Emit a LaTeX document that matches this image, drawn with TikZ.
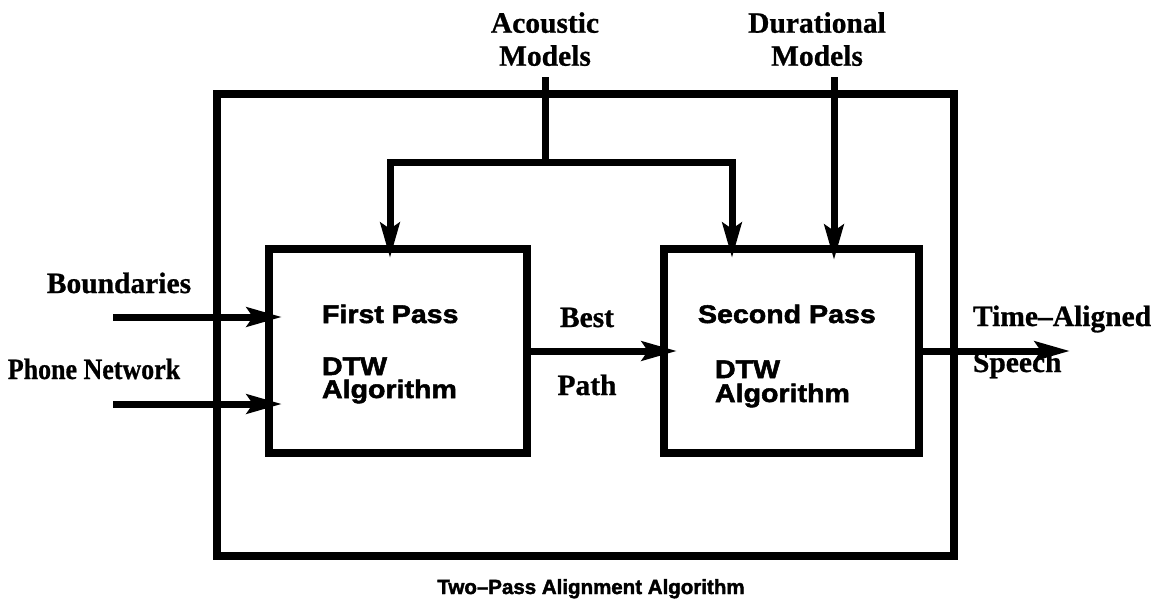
\documentclass[tikz,border=0pt]{standalone}
\usepackage{fontspec}
\setmainfont{Liberation Serif}[BoldFeatures={FakeBold=0.8}]
\newfontfamily\hsans{Liberation Sans Bold}[FakeStretch=1.12, FakeBold=2]
\newfontfamily\tsans{Liberation Sans Bold}[FakeBold=2]
\usetikzlibrary{arrows.meta}
\begin{document}
\begin{tikzpicture}[x=1pt,y=-1pt,
  box/.style={draw, line width=8pt, inner sep=0pt, outer sep=0pt},
  lab/.style={font=\bfseries\fontsize{29.5}{33}\selectfont, inner sep=0pt, outer sep=0pt},
  intext/.style={font=\hsans\fontsize{25.5}{28}\selectfont, inner sep=0pt, outer sep=0pt, anchor=base west},
  conn/.style={line width=7pt},
  arrow/.style={line width=7pt, -{Stealth[length=35pt, width=19pt, inset=6pt]}}]
\useasboundingbox (0,0) rectangle (1160,608);

% boxes
\node[box, minimum width=737pt, minimum height=462pt] (outer) at (585.5,325) {};
\node[box, minimum width=258pt, minimum height=204pt] (first) at (398,351) {};
\node[box, minimum width=255pt, minimum height=204pt] (second) at (791.5,351) {};

% box texts
\node[intext] (fp) at (322,323) {First Pass};
\node[intext] (fdtw) at (322,375) {DTW};
\node[intext] (falg) at (322,398) {Algorithm};
\node[intext] (sp) at (698,323) {Second Pass};
\node[intext] (sdtw) at (715,378) {DTW};
\node[intext] (salg) at (715,402) {Algorithm};

% outside labels
\node[lab, align=center, anchor=south] (acoustic) at (545,66) {Acoustic\\Models};
\node[lab, align=center, anchor=south] (durational) at (817,66) {Durational\\Models};
\node[lab, anchor=base] (bound) at (119,293) {Boundaries};
\node[lab, anchor=base] (phone) at (94,379) {\scalebox{0.88}[1]{Phone Network}};
\node[lab, anchor=base] (best) at (587,327) {Best};
\node[lab, anchor=base] (path) at (587,395) {Path};
\node[lab, anchor=base west] (tal) at (973,326) {Time–Aligned};
\node[lab, anchor=base west] (speech) at (973,372) {Speech};
\node[font=\tsans\fontsize{20.5}{24}\selectfont, inner sep=0pt, anchor=base] (title) at (591,594) {Two–Pass Alignment Algorithm};

% coordinates for free ends
\coordinate (split) at (545,162);
\coordinate (dstart) at (834,77);
\coordinate (bstart) at (113,317);
\coordinate (pstart) at (113,404);
\coordinate (outend) at (1070,351);

% connectors
\draw[conn] ([yshift=-11pt]acoustic.south) -- (split);
\draw[arrow, shorten >=-9pt] (split) -| ([xshift=-8pt]first.north);
\draw[arrow, shorten >=-9pt] (split) -| ([xshift=-59.5pt]second.north);
\draw[arrow, shorten >=-11pt] (dstart) -- (dstart |- second.north);
\draw[arrow, shorten >=-13pt] (bstart) -- (first.west |- bstart);
\draw[arrow, shorten >=-13pt] (pstart) -- (first.west |- pstart);
\draw[arrow, shorten >=-13pt] (first.east) -- (second.west);
\draw[arrow] (second.east) -- (outend);
\end{tikzpicture}
\end{document}
